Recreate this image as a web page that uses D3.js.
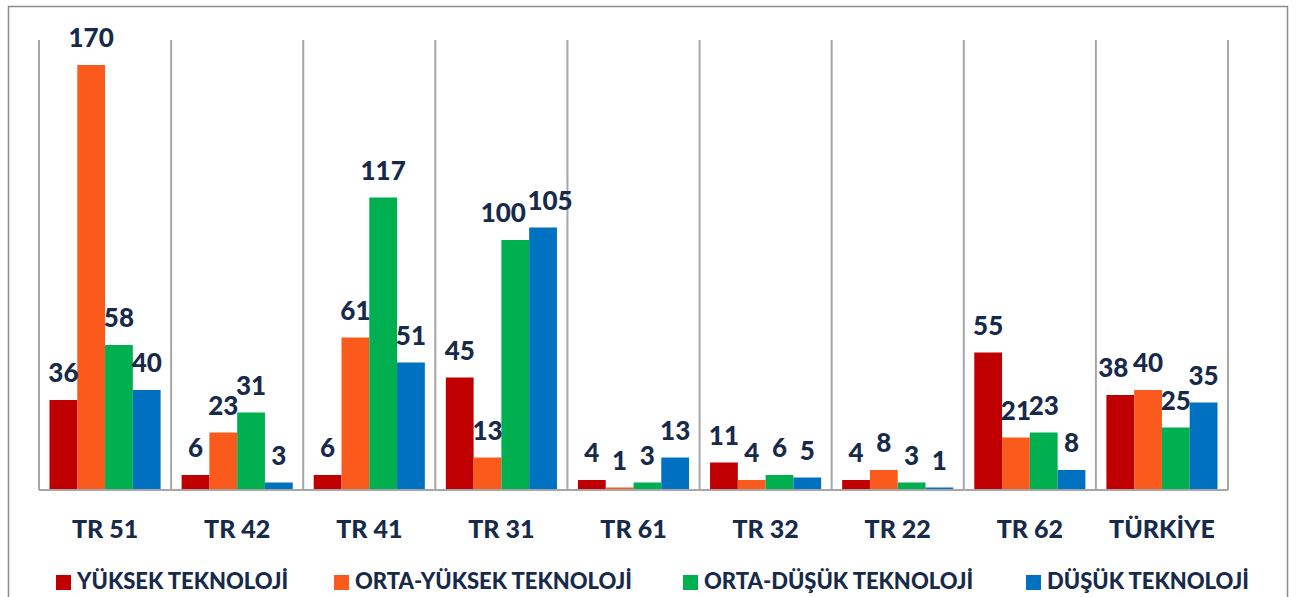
<!DOCTYPE html>
<html>
<head>
<meta charset="utf-8">
<script src="https://cdn.jsdelivr.net/npm/d3@7"></script>
<style>
  body { margin: 0; background: #fff; }
  svg text { font-family: Lato, "Open Sans", sans-serif; font-weight: 900; fill: #172a4a; }
</style>
</head>
<body>
<div id="chart"></div>
<script>
// data
var regions = ["TR 51", "TR 42", "TR 41", "TR 31", "TR 61", "TR 32", "TR 22", "TR 62", "TÜRKİYE"];
var seriesNames = ["YÜKSEK TEKNOLOJİ", "ORTA-YÜKSEK TEKNOLOJİ", "ORTA-DÜŞÜK TEKNOLOJİ", "DÜŞÜK TEKNOLOJİ"];
var yuksek     = [36, 6, 6, 45, 4, 11, 4, 55, 38];
var ortaYuksek = [170, 23, 61, 13, 1, 4, 8, 21, 40];
var ortaDusuk  = [58, 31, 117, 100, 3, 6, 3, 23, 25];
var dusuk      = [40, 3, 51, 105, 13, 5, 1, 8, 35];
var colors = ["#c00000", "#fa5a1b", "#00b050", "#0070c0"];

var allSeries = [yuksek, ortaYuksek, ortaDusuk, dusuk];

var fullwidth = 1306, fullheight = 597;
var plot = { left: 39, right: 1228, top: 40, bottom: 490 };

var svg = d3.select("#chart")
    .append("svg")
    .attr("width", fullwidth)
    .attr("height", fullheight);

// outer frame
svg.append("rect")
    .attr("x", 8.5).attr("y", 6.5)
    .attr("width", 1279).attr("height", 600)
    .attr("fill", "none")
    .attr("stroke", "#8c8c8c")
    .attr("stroke-width", 1.5);

var x0 = d3.scaleBand()
    .domain(regions)
    .range([plot.left, plot.right]);

var x1 = d3.scaleBand()
    .domain(d3.range(4))
    .range([10.5, x0.bandwidth() - 10.5]);

var y = d3.scaleLinear()
    .domain([0, 180])
    .range([plot.bottom, plot.top]);

// vertical dividers between categories
var dividers = regions.map(function(r) { return x0(r); }).concat([plot.right]);
svg.selectAll("line.div")
    .data(dividers)
    .enter().append("line")
    .attr("class", "div")
    .attr("x1", function(d) { return d; })
    .attr("x2", function(d) { return d; })
    .attr("y1", plot.top)
    .attr("y2", plot.bottom)
    .attr("stroke", "#a6a6a6")
    .attr("stroke-width", 2);

// flatten rows
var rows = [];
regions.forEach(function(r, i) {
  allSeries.forEach(function(s, k) {
    rows.push({ region: r, k: k, value: s[i] });
  });
});

var groups = svg.append("g");

groups.selectAll("rect.bar")
    .data(rows)
    .enter().append("rect")
    .attr("class", "bar")
    .attr("x", function(d) { return x0(d.region) + x1(d.k); })
    .attr("width", x1.bandwidth())
    .attr("y", function(d) { return y(d.value); })
    .attr("height", function(d) { return plot.bottom - y(d.value); })
    .attr("fill", function(d) { return colors[d.k]; });

// nudge a few labels that would collide (like Excel does)
function labelDx(d) {
  if (d.region == "TR 31" && d.k == 2) return -12;
  if (d.region == "TR 31" && d.k == 3) return 7;
  if (d.region == "TÜRKİYE" && d.k == 0) return -7;
  return 0;
}

groups.selectAll("text.val")
    .data(rows)
    .enter().append("text")
    .attr("class", "val")
    .attr("x", function(d) { return x0(d.region) + x1(d.k) + x1.bandwidth() / 2 + labelDx(d); })
    .attr("y", function(d) { return y(d.value) - 18; })
    .attr("text-anchor", "middle")
    .style("font-size", "26px")
    .text(function(d) { return d.value; });

// baseline
svg.append("line")
    .attr("x1", plot.left).attr("x2", plot.right)
    .attr("y1", plot.bottom).attr("y2", plot.bottom)
    .attr("stroke", "#a6a6a6")
    .attr("stroke-width", 2);

// category labels
var xAxis = d3.axisBottom(x0).tickSize(0).tickPadding(0);
var axisG = svg.append("g")
    .attr("transform", "translate(0," + plot.bottom + ")")
    .call(xAxis);
axisG.select(".domain").remove();
axisG.selectAll("text")
    .attr("y", 48)
    .attr("dy", 0)
    .style("font-size", "25px")
    .style("font-family", "Lato, 'Open Sans', sans-serif")
    .style("font-weight", "900")
    .attr("fill", "#172a4a");

// legend
var legendX = [56, 334, 683, 1026];
var legend = svg.selectAll("g.leg")
    .data(seriesNames)
    .enter().append("g")
    .attr("class", "leg")
    .attr("transform", function(d, i) { return "translate(" + legendX[i] + ",575)"; });

legend.append("rect")
    .attr("width", 15).attr("height", 15)
    .attr("fill", function(d, i) { return colors[i]; });

legend.append("text")
    .attr("x", 21)
    .attr("y", 14)
    .style("font-size", "22px")
    .text(function(d) { return d; });
</script>
</body>
</html>
